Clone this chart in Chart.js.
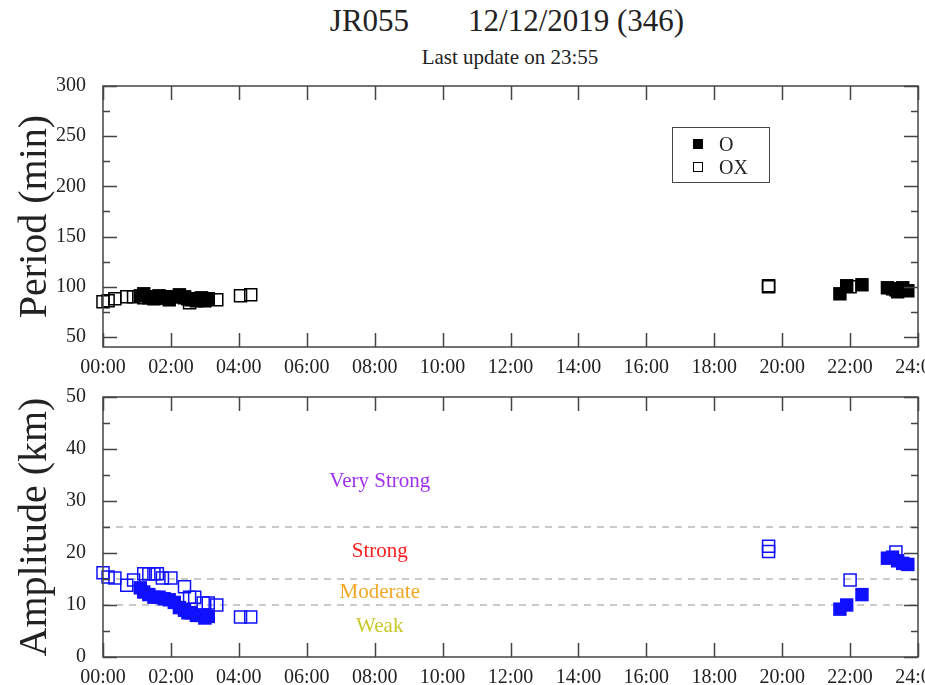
<!DOCTYPE html>
<html>
<head>
<meta charset="utf-8">
<script src="https://cdn.jsdelivr.net/npm/chart.js@4.4.1/dist/chart.umd.min.js"></script>
<style>
  body { margin: 0; background: #fff; width: 925px; height: 685px; overflow: hidden; position: relative;
         font-family: "Liberation Serif", "DejaVu Serif", serif; color: #222; }
  canvas { position: absolute; left: 0; }
  #title { position: absolute; top: 3px; left: 257px; width: 500px; text-align: center; font-size: 31px; }
  #subtitle { position: absolute; top: 45px; left: 360px; width: 300px; text-align: center; font-size: 21px; }
  #legend { position: absolute; left: 672px; top: 127px; width: 96px; height: 54px; border: 1.5px solid #444; }
  .item { position: absolute; left: 0; font-size: 20px; line-height: 20px; }
  .mark { position: absolute; left: 20px; width: 10px; height: 10px; box-sizing: border-box; }
  .item span.txt { position: absolute; left: 46px; top: 0; }
</style>
</head>
<body>
<div id="title">JR055<span style="margin-left:59px">12/12/2019 (346)</span></div>
<div id="subtitle">Last update on 23:55</div>
<canvas id="periodChart" width="925" height="380" style="top:0"></canvas>
<canvas id="ampChart" width="925" height="305" style="top:380px"></canvas>
<div id="legend">
  <div class="item" style="top:6px"><div class="mark" style="top:5px;background:#000"></div><span class="txt">O</span></div>
  <div class="item" style="top:29px"><div class="mark" style="top:5px;border:1.5px solid #000"></div><span class="txt">OX</span></div>
</div>
<script>
// axis ticks
const hourTicks = [0, 2, 4, 6, 8, 10, 12, 14, 16, 18, 20, 22, 24];
const hourLabels = ['00:00', '02:00', '04:00', '06:00', '08:00', '10:00', '12:00',
                    '14:00', '16:00', '18:00', '20:00', '22:00', '24:00'];
const periodTicks = [50, 100, 150, 200, 250, 300];
const amplitudeTicks = [0, 10, 20, 30, 40, 50];

// O mode (filled squares), time in hours
const oHours = [1.1, 1.2, 1.35, 1.5, 1.65, 1.8, 1.95, 2.1, 2.25, 2.4, 2.5, 2.6, 2.75, 2.9, 3.0, 3.1,
                21.7, 21.9, 22.35, 23.1, 23.25, 23.4, 23.55, 23.7];
const oPeriod = [91, 93, 90, 88, 91, 89, 87, 90, 92, 90, 88, 87, 86, 89, 86, 88,
                 93, 101, 102, 99, 98, 95, 99, 96];
const oAmplitude = [13.3, 12.5, 12, 11.5, 11.5, 11.2, 11, 10.5, 9.5, 9, 8.5, 8.5, 8, 8, 7.5, 7.8,
                    9.2, 10, 12, 19, 19.2, 18.5, 18, 17.8];

// OX mode (open squares)
const oxHours = [0.0, 0.15, 0.35, 0.7, 0.9, 1.2, 1.35, 1.5, 1.6, 1.75, 2.0, 2.4, 2.55, 2.7, 2.95, 3.1,
                 3.35, 4.05, 4.35, 19.6, 19.6, 22.0, 23.35];
const oxPeriod = [85, 86, 88, 90, 90, 89, 89, 90, 89, 89, 90, 89, 84, 88, 88, 88,
                  87, 91, 92, 100, 101, 100, 97];
const oxAmplitude = [16.2, 15.4, 15.2, 13.8, 14.8, 16, 16, 16, 16, 15.2, 15.2, 13.5, 11.5, 11.5, 10.4, 10.4,
                     10, 7.7, 7.7, 20.3, 21.3, 14.8, 20.2];

// activity levels
const levelLines = [25, 15, 10];
const levelNames = ['Very Strong', 'Strong', 'Moderate', 'Weak'];
const levelColors = ['#a030f0', '#ff2020', '#f5a623', '#c8c82a'];

const FONT = '"Liberation Serif", "DejaVu Serif", serif';

function toPoints(xs, ys) {
  return xs.map((x, i) => ({ x: x, y: ys[i] }));
}

// frame, inward ticks on all sides, level lines and level names
const framePlugin = {
  id: 'frame',
  beforeDatasetsDraw(chart, args, opts) {
    if (!opts.levels) return;
    const { ctx, chartArea: a, scales: { x, y } } = chart;
    ctx.save();
    ctx.strokeStyle = '#cacaca';
    ctx.lineWidth = 2;
    ctx.setLineDash([7, 6]);
    opts.levels.forEach(v => {
      const py = Math.round(y.getPixelForValue(v));
      ctx.beginPath();
      ctx.moveTo(a.left, py);
      ctx.lineTo(a.right, py);
      ctx.stroke();
    });
    ctx.setLineDash([]);
    ctx.font = '21px ' + FONT;
    ctx.textAlign = 'center';
    ctx.textBaseline = 'middle';
    opts.names.forEach((t, i) => {
      ctx.fillStyle = opts.colors[i];
      ctx.fillText(t, x.getPixelForValue(opts.nameX), y.getPixelForValue(opts.nameY[i]));
    });
    ctx.restore();
  },
  afterDatasetsDraw(chart) {
    const { ctx, chartArea: a, scales: { x, y } } = chart;
    ctx.save();
    ctx.strokeStyle = '#444';
    ctx.lineWidth = 1.5;
    ctx.strokeRect(a.left, a.top, a.right - a.left, a.bottom - a.top);
    ctx.beginPath();
    x.ticks.forEach(t => {
      const px = Math.round(x.getPixelForValue(t.value)) + 0.5;
      ctx.moveTo(px, a.bottom); ctx.lineTo(px, a.bottom - 14);
      ctx.moveTo(px, a.top); ctx.lineTo(px, a.top + 14);
    });
    y.ticks.forEach((t, i) => {
      const py = Math.round(y.getPixelForValue(t.value)) + 0.5;
      ctx.moveTo(a.left, py); ctx.lineTo(a.left + 14, py);
      ctx.moveTo(a.right, py); ctx.lineTo(a.right - 14, py);
      if (i > 0) {
        const pm = Math.round(y.getPixelForValue((t.value + y.ticks[i - 1].value) / 2)) + 0.5;
        ctx.moveTo(a.left, pm); ctx.lineTo(a.left + 7, pm);
        ctx.moveTo(a.right, pm); ctx.lineTo(a.right - 7, pm);
      }
    });
    ctx.stroke();
    ctx.restore();
  }
};

function hourAxis(height) {
  return {
    type: 'linear', min: 0, max: 24,
    afterBuildTicks: s => { s.ticks = hourTicks.map(v => ({ value: v })); },
    ticks: {
      callback: (v, i) => hourLabels[i],
      font: { family: FONT, size: 20 }, color: '#222',
      padding: 1, maxRotation: 0, autoSkip: false
    },
    grid: { display: false },
    border: { display: false },
    afterFit: s => { s.height = height; s.paddingLeft = 0; s.paddingRight = 0; }
  };
}

function valueAxis(min, max, tickList, titleText) {
  return {
    type: 'linear', min: min, max: max,
    afterBuildTicks: s => { s.ticks = tickList.map(v => ({ value: v })); },
    ticks: { font: { family: FONT, size: 20 }, color: '#222', padding: 9 },
    grid: { display: false },
    border: { display: false },
    title: {
      display: true, text: titleText, color: '#222',
      font: { family: FONT, size: 40 }, padding: { top: 11, bottom: 0 }
    },
    afterFit: s => { s.width = 103; s.paddingTop = 0; s.paddingBottom = 0; }
  };
}

function squareSets(color, oData, oxData) {
  return [{
    label: 'O', data: oData, pointStyle: 'rect', pointRadius: 9.5, pointHoverRadius: 9.5,
    backgroundColor: color, borderColor: color, borderWidth: 0, clip: false
  }, {
    label: 'OX', data: oxData, pointStyle: 'rect', pointRadius: 8.5, pointHoverRadius: 8.5,
    backgroundColor: 'rgba(0,0,0,0)', borderColor: color, borderWidth: 1.5, clip: false
  }];
}

new Chart(document.getElementById('periodChart'), {
  type: 'scatter',
  data: { datasets: squareSets('#000', toPoints(oHours, oPeriod), toPoints(oxHours, oxPeriod)) },
  options: {
    responsive: false, animation: false,
    layout: { padding: { top: 86, left: 0, right: 7, bottom: 0 }, autoPadding: false },
    plugins: { legend: { display: false }, tooltip: { enabled: false }, frame: {} },
    scales: { x: hourAxis(33), y: valueAxis(40, 300, periodTicks, 'Period (min)') }
  },
  plugins: [framePlugin]
});

new Chart(document.getElementById('ampChart'), {
  type: 'scatter',
  data: { datasets: squareSets('#1010ff', toPoints(oHours, oAmplitude), toPoints(oxHours, oxAmplitude)) },
  options: {
    responsive: false, animation: false,
    layout: { padding: { top: 17, left: 0, right: 7, bottom: 0 }, autoPadding: false },
    plugins: {
      legend: { display: false }, tooltip: { enabled: false },
      frame: {
        levels: levelLines, names: levelNames, colors: levelColors,
        nameX: 8.15, nameY: [33.7, 20.2, 12.5, 5.8]
      }
    },
    scales: { x: hourAxis(28), y: valueAxis(0, 50, amplitudeTicks, 'Amplitude (km)') }
  },
  plugins: [framePlugin]
});
</script>
</body>
</html>
